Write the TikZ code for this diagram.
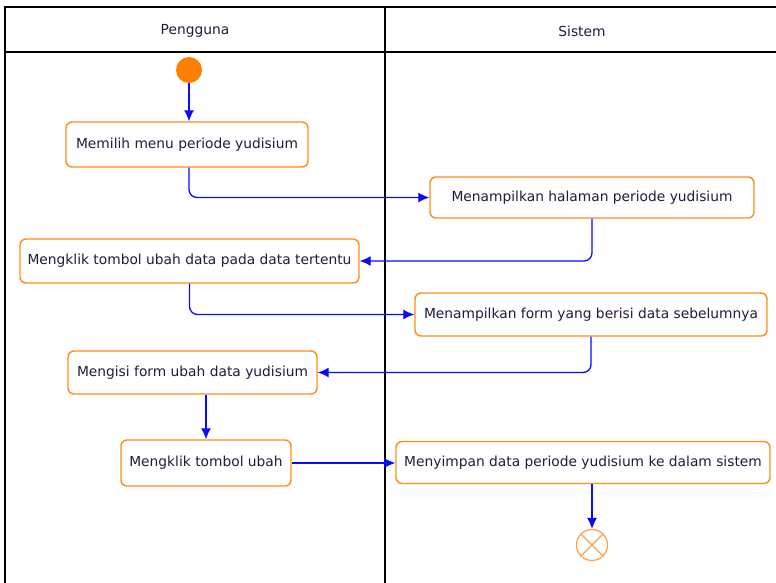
\documentclass[tikz,border=0pt]{standalone}
\usepackage{fontspec}
\setmainfont{DejaVu Sans}
\usetikzlibrary{calc, arrows.meta}
\definecolor{actorange}{RGB}{255,140,26}
\definecolor{endorange}{RGB}{255,160,70}
\definecolor{flowblue}{RGB}{10,10,255}
\definecolor{textnavy}{RGB}{30,30,60}
\tikzset{>={Latex[length=11pt,width=10pt]}}
\tikzset{
  activity/.style={draw=actorange, line width=1.4pt, rounded corners=6pt, fill=white,
    text=textnavy, inner sep=0pt, font=\fontsize{13.8}{16}\selectfont},
  flow/.style={flowblue, line width=1.3pt, ->, rounded corners=8pt},
  lane/.style={black, line width=1.6pt}
}

\begin{document}
\begin{tikzpicture}[x=1pt, y=-1pt]
\useasboundingbox[fill=white] (0,0) rectangle (776,582);
\draw[lane, line width=2.4pt] (5,600) -- (5,7) -- (790,7);
\draw[lane] (5,52) -- (790,52);
\draw[lane] (385,7) -- (385,600);
\node[text=textnavy, font=\fontsize{13.8}{16}\selectfont] (pengguna) at (195,31) {Pengguna};
\node[text=textnavy, font=\fontsize{13.8}{16}\selectfont] (sistem) at (582,31) {Sistem};
\node[circle, fill=orange, minimum size=26pt, inner sep=0pt] (start) at (189,70) {};
\node[activity, minimum width=242pt, minimum height=45pt] (pilih) at (187,144.5) {Memilih menu periode yudisium};
\node[activity, minimum width=324pt, minimum height=41pt] (halaman) at (592,197.5) {Menampilkan halaman periode yudisium};
\node[activity, minimum width=339pt, minimum height=44pt] (klikdata) at (189.5,261) {Mengklik tombol ubah data pada data tertentu};
\node[activity, minimum width=352pt, minimum height=43pt] (form) at (591,314.5) {Menampilkan form yang berisi data sebelumnya};
\node[activity, minimum width=249pt, minimum height=43pt] (isi) at (192.5,372.5) {Mengisi form ubah data yudisium};
\node[activity, minimum width=170pt, minimum height=46pt] (klikubah) at (206,463) {Mengklik tombol ubah};
\node[activity, minimum width=374pt, minimum height=42pt] (simpan) at (583,462.5) {Menyimpan data periode yudisium ke dalam sistem};
\node[circle, draw=endorange, line width=1.2pt, minimum size=31pt, inner sep=0pt] (end) at (592,545) {};
\draw[endorange, line width=1.1pt] (end.north east) -- (end.south west);
\draw[endorange, line width=1.1pt] (end.north west) -- (end.south east);
\draw[flow] (start.south) -- (start.south |- pilih.north);
\draw[flow] ($(pilih.south)+(2,0)$) |- (halaman.west);
\draw[flow] (halaman.south) |- (klikdata.east);
\draw[flow] (klikdata.south) |- (form.west);
\draw[flow] (form.south) |- (isi.east);
\draw[flow] (isi.south -| klikubah.north) -- (klikubah.north);
\draw[flow] (klikubah.east) -- (klikubah.east -| simpan.west);
\draw[flow] (simpan.south -| end.north) -- (end.north);
\end{tikzpicture}
\end{document}
